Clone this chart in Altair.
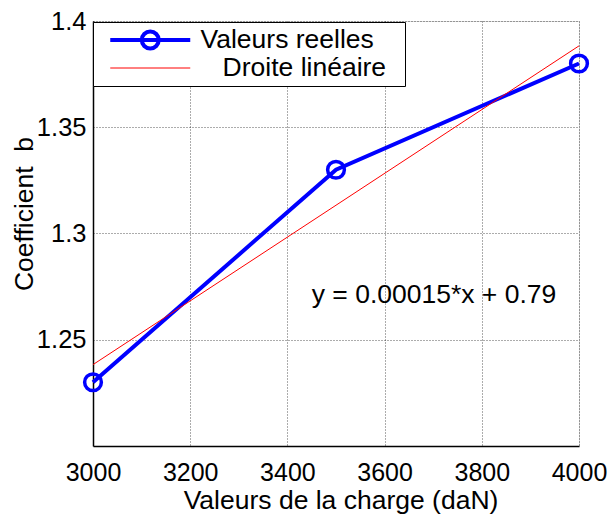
import altair as alt
import pandas as pd

# --- data ---
x_reel = [3000, 3500, 4000]
y_reel = [1.23, 1.33, 1.38]
x_droite = [3000, 4000]
y_droite = [1.2383, 1.3883]
series = ["Valeurs reelles", "Droite linéaire"]
x_ticks = [3000, 3200, 3400, 3600, 3800, 4000]
y_ticks = [1.25, 1.3, 1.35, 1.4]
ann_x = [3450]
ann_y = [1.271]
ann_text = ["y = 0.00015*x + 0.79"]

FONT = "Liberation Sans"
BLUE = "#0000ff"
RED = "#ff0000"

df_reel = pd.DataFrame({"x": x_reel, "y": y_reel, "serie": series[0]})
df_droite = pd.DataFrame({"x": x_droite, "y": y_droite, "serie": series[1]})
df_all = pd.concat([df_reel, df_droite], ignore_index=True)
df_ann = pd.DataFrame({"x": ann_x, "y": ann_y, "t": ann_text})

x_enc = alt.X(
    "x:Q",
    scale=alt.Scale(domain=[3000, 4000], nice=False, zero=False),
    axis=alt.Axis(
        values=x_ticks, format="d", title="Valeurs de la charge (daN)",
        grid=True, gridDash=[1, 2], gridColor="#000000", gridOpacity=0.65,
        ticks=False, domain=True, domainColor="black", domainWidth=1.5,
        labelFlush=False, labelOverlap=False,
        labelFont=FONT, labelFontSize=25, labelColor="black", labelPadding=14,
        titleFont=FONT, titleFontSize=26.5, titleFontWeight="normal", titleColor="black",
        titleX=247.5, titleY=62, titleBaseline="alphabetic", titleAlign="center",
    ),
)
y_enc = alt.Y(
    "y:Q",
    scale=alt.Scale(domain=[1.2, 1.4], nice=False, zero=False),
    axis=alt.Axis(
        values=y_ticks, format="~g", title="Coefficient\u00a0 b",
        grid=True, gridDash=[1, 2], gridColor="#000000", gridOpacity=0.65,
        ticks=False, domain=True, domainColor="black", domainWidth=1.5,
        labelFlush=False, labelOverlap=False,
        labelFont=FONT, labelFontSize=25.5, labelColor="black", labelPadding=7,
        titleFont=FONT, titleFontSize=26.5, titleFontWeight="normal", titleColor="black",
        titleX=-61, titleY=192.5, titleBaseline="alphabetic", titleAlign="center",
    ),
)

blue_line = alt.Chart(df_reel).mark_line(color=BLUE, strokeWidth=4).encode(x=x_enc, y=y_enc)
blue_pts = alt.Chart(df_reel).mark_point(
    shape="circle", filled=False, color=BLUE, size=280, strokeWidth=3.5, opacity=1
).encode(x=x_enc, y=y_enc)
red_line = alt.Chart(df_droite).mark_line(color=RED, strokeWidth=1).encode(x=x_enc, y=y_enc)

path_blue = "M-4,0L4,0M-0.85,0A0.85,0.85,0,1,1,0.85,0A0.85,0.85,0,1,1,-0.85,0Z"
path_red = "M-4,0L4,0"

# zero-width space guards keep the no-break spaces from being trimmed
zw = "\u200b"
nb = "\u00a0"
leg = alt.Legend(
    title=None, orient="none", legendX=0, legendY=1,
    padding=4, rowPadding=0, clipHeight=28,
    labelFont=FONT, labelFontSize=26.5, labelColor="black", labelLimit=400,
    labelOffset=37, symbolOffset=40, symbolSize=400, symbolOpacity=1,
    strokeColor="black", fillColor="white", cornerRadius=0,
    labelExpr="indexof(datum.label, 'Droite') >= 0 ? '" + zw + nb * 3
    + "' + datum.label + '" + nb * 2 + zw + "' : datum.label",
)

legend_layer = alt.Chart(df_all).mark_point(filled=False, opacity=0).encode(
    x=x_enc, y=y_enc,
    shape=alt.Shape("serie:N", scale=alt.Scale(domain=series, range=[path_blue, path_red]), legend=leg),
    stroke=alt.Stroke("serie:N", scale=alt.Scale(domain=series, range=[BLUE, RED]), legend=leg),
    strokeWidth=alt.StrokeWidth("serie:N", scale=alt.Scale(domain=series, range=[4, 1]), legend=leg),
)

annot = alt.Chart(df_ann).mark_text(
    align="left", baseline="middle", font=FONT, fontSize=26.5, color="black"
).encode(x=x_enc, y=y_enc, text="t:N")

chart = alt.layer(legend_layer, blue_line, red_line, blue_pts, annot).properties(
    width=486, height=425,
    autosize=alt.AutoSizeParams(type="none"),
    padding={"left": 85, "top": 13, "right": 28, "bottom": 69},
).configure_view(stroke="black", strokeWidth=1.5).configure(background="white")

chart.save("out.html", embed_options={"renderer": "svg", "actions": False})
